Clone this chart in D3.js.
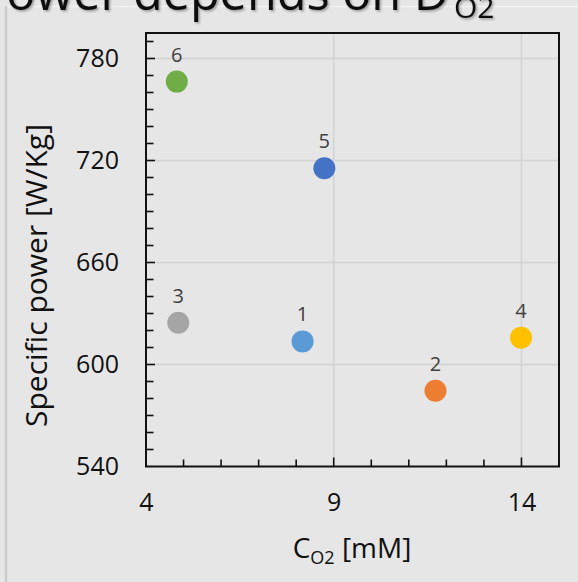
<!DOCTYPE html>
<html>
<head>
<meta charset="utf-8">
<script src="https://cdn.jsdelivr.net/npm/d3@7"></script>
<style>
  html, body { margin: 0; padding: 0; background: #e6e6e6; }
  svg { display: block; font-family: "Open Sans", sans-serif; }
</style>
</head>
<body>
<script>
// Experiment numbers, oxygen concentration (mM) and specific power (W/Kg)
const runLabels = ["1", "2", "3", "4", "5", "6"];
const concentration = [8.17, 11.71, 4.86, 13.99, 8.75, 4.82];
const specificPower = [613.6, 584.6, 624.6, 615.8, 715.4, 766.4];
const pointColors = ["#5b9bd5", "#ed7d31", "#a5a5a5", "#ffc000", "#4472c4", "#70ad47"];

const xTickValues = [4, 9, 14];
const yTickValues = [540, 600, 660, 720, 780];
const xDomain = [4, 15];
const yDomain = [540, 795];

const W = 578, H = 582;
const frame = { left: 146, right: 559, top: 33, bottom: 466.5 };

const svg = d3.select("body").append("svg").attr("width", W).attr("height", H);

svg.append("rect").attr("width", W).attr("height", H).attr("fill", "#e6e6e6");

// slide edge lines
svg.append("line").attr("x1", 6).attr("x2", W).attr("y1", 6.5).attr("y2", 6.5)
  .attr("stroke", "#f3f3f3").attr("stroke-width", 1.5);
svg.append("line").attr("x1", 6).attr("x2", 6).attr("y1", 6).attr("y2", H)
  .attr("stroke", "#cdcdcd").attr("stroke-width", 2.5);

// slide heading, running off the top edge
const shadow = svg.append("filter").attr("id", "shadow")
  .attr("x", "-5%").attr("y", "-50%").attr("width", "110%").attr("height", "200%");
shadow.append("feDropShadow").attr("dx", 1.5).attr("dy", 1.5).attr("stdDeviation", 1)
  .attr("flood-color", "#000").attr("flood-opacity", 0.35);
const heading = svg.append("g").attr("filter", "url(#shadow)").attr("fill", "#111");
const headMain = heading.append("text").attr("x", 449).attr("y", 10).attr("text-anchor", "end")
  .attr("font-size", 46).text("Power depends on D");
// size the heading so it starts just past the left edge
const headLen = headMain.node().getComputedTextLength();
headMain.attr("font-size", 46 * 472 / headLen);
heading.append("text").attr("x", 454).attr("y", 18)
  .attr("font-size", 30).text("O2");

const x = d3.scaleLinear().domain(xDomain).range([frame.left, frame.right]);
const y = d3.scaleLinear().domain(yDomain).range([frame.bottom, frame.top]);

// gridlines
const grid = svg.append("g").attr("stroke", "#d2d2d2").attr("stroke-width", 1.5);
grid.selectAll(".gx").data(xTickValues.filter(v => v > xDomain[0]))
  .join("line").attr("x1", d => x(d)).attr("x2", d => x(d))
  .attr("y1", frame.top).attr("y2", frame.bottom);
grid.selectAll(".gy").data(yTickValues.filter(v => v > yDomain[0]))
  .join("line").attr("x1", frame.left).attr("x2", frame.right)
  .attr("y1", d => y(d)).attr("y2", d => y(d));

// inward minor ticks
const xMinor = d3.range(xDomain[0] + 1, xDomain[1], 1);
const yMinor = d3.range(yDomain[0] + 10, yDomain[1], 10);
const ticks = svg.append("g").attr("stroke", "#111").attr("stroke-width", 1.6);
ticks.selectAll(".tx").data(xMinor).join("line")
  .attr("x1", d => x(d)).attr("x2", d => x(d))
  .attr("y1", frame.bottom).attr("y2", d => frame.bottom - (xTickValues.includes(d) ? 9 : 7));
ticks.selectAll(".ty").data(yMinor).join("line")
  .attr("y1", d => y(d)).attr("y2", d => y(d))
  .attr("x1", frame.left).attr("x2", d => frame.left + (yTickValues.includes(d) ? 9 : 7.5));

// plot frame
svg.append("rect").attr("x", frame.left).attr("y", frame.top)
  .attr("width", frame.right - frame.left).attr("height", frame.bottom - frame.top)
  .attr("fill", "none").attr("stroke", "#111").attr("stroke-width", 2);

// axis labels via d3 axes (lines hidden, labels only)
const xAxis = svg.append("g").attr("transform", `translate(0,${frame.bottom})`)
  .call(d3.axisBottom(x).tickValues(xTickValues).tickSize(0).tickPadding(27).tickFormat(d3.format("d")));
const yAxis = svg.append("g").attr("transform", `translate(${frame.left},0)`)
  .call(d3.axisLeft(y).tickValues(yTickValues).tickSize(0).tickPadding(27).tickFormat(d3.format("d")));
[xAxis, yAxis].forEach(a => {
  a.select(".domain").remove();
  a.selectAll("text").attr("font-size", 25).attr("fill", "#111").attr("font-family", "'Open Sans', sans-serif");
});

// axis titles
const xt = svg.append("text").attr("x", 352).attr("y", 558).attr("text-anchor", "middle")
  .attr("font-size", 28).attr("fill", "#111");
xt.append("tspan").text("C");
xt.append("tspan").attr("font-size", 18).attr("dy", 6).text("O2");
xt.append("tspan").attr("dy", -6).text(" [mM]");

svg.append("text").attr("transform", "translate(47,275.5) rotate(-90)")
  .attr("text-anchor", "middle").attr("font-size", 30).attr("fill", "#111")
  .text("Specific power [W/Kg]");

// points
const pts = runLabels.map((lab, i) => ({ lab, cx: concentration[i], p: specificPower[i], c: pointColors[i] }));
svg.append("g").selectAll("circle").data(pts).join("circle")
  .attr("cx", d => x(d.cx)).attr("cy", d => y(d.p)).attr("r", 11)
  .attr("fill", d => d.c);
svg.append("g").selectAll("text").data(pts).join("text")
  .attr("x", d => x(d.cx)).attr("y", d => y(d.p) - 20)
  .attr("text-anchor", "middle").attr("font-size", 20).attr("fill", "#404040")
  .text(d => d.lab);
</script>
</body>
</html>
